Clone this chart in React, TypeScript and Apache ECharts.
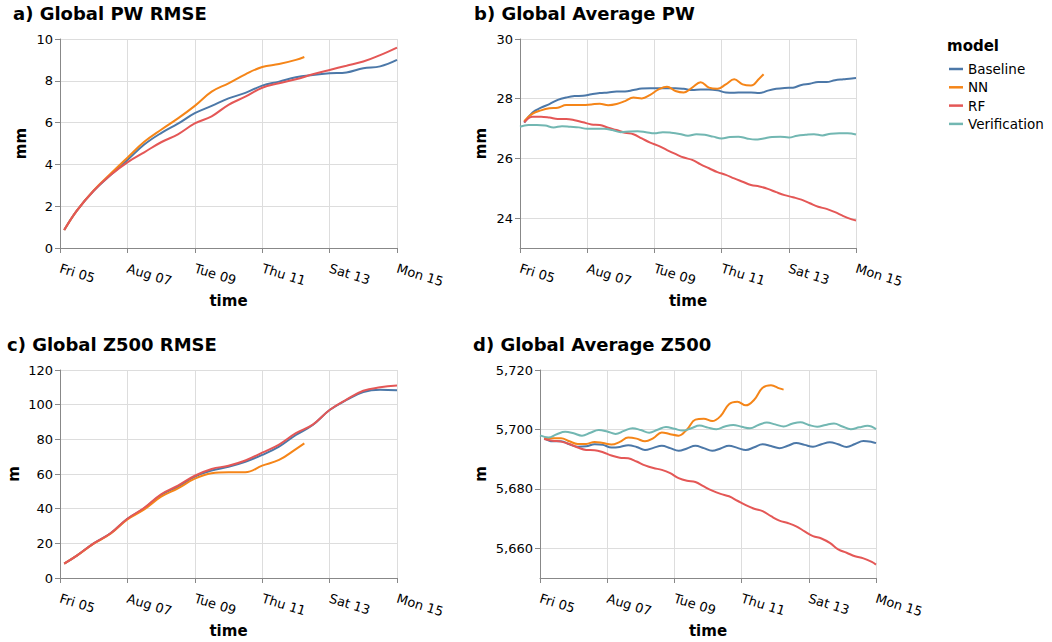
import React, { useEffect, useRef } from "react";
import * as echarts from "echarts";

const FONT = "DejaVu Sans";
const X_TICK_LABELS = ["Fri 05", "Aug 07", "Tue 09", "Thu 11", "Sat 13", "Mon 15"];
const MODELS = ["Baseline", "NN", "RF", "Verification"];
const COLORS: Record<string, string> = {
  Baseline: "#4c78a8",
  NN: "#f58518",
  RF: "#e45756",
  Verification: "#72b7b2",
};

// lead times in hours from Fri 05 00:00
const H12 = [3, 12, 24, 36, 48, 60, 72, 84, 96, 108, 120, 132, 144, 156, 168, 180, 192, 204, 216, 228, 240];
const H12_NN = [3, 12, 24, 36, 48, 60, 72, 84, 96, 108, 120, 132, 144, 156, 168, 174];
const H6 = [3, 9, 15, 21, 27, 33, 39, 45, 51, 57, 63, 69, 75, 81, 87, 93, 99, 105, 111, 117, 123, 129, 135, 141, 147, 153, 159, 165, 171, 177, 183, 189, 195, 201, 207, 213, 219, 225, 231, 237, 240];
const H6_NN = [3, 9, 15, 21, 27, 33, 39, 45, 51, 57, 63, 69, 75, 81, 87, 93, 99, 105, 111, 117, 123, 129, 135, 141, 147, 153, 159, 165, 171, 174];
const H6_VER = [0, 6, 12, 18, 24, 30, 36, 42, 48, 54, 60, 66, 72, 78, 84, 90, 96, 102, 108, 114, 120, 126, 132, 138, 144, 150, 156, 162, 168, 174, 180, 186, 192, 198, 204, 210, 216, 222, 228, 234, 240];

// a) Global PW RMSE (mm)
const A_BASELINE = [0.86, 1.79, 2.74, 3.49, 4.21, 4.95, 5.5, 5.95, 6.45, 6.8, 7.16, 7.42, 7.77, 7.96, 8.17, 8.28, 8.36, 8.4, 8.6, 8.69, 9.0];
const A_NN = [0.86, 1.79, 2.76, 3.55, 4.32, 5.08, 5.66, 6.2, 6.8, 7.48, 7.88, 8.31, 8.66, 8.8, 9.0, 9.14];
const A_RF = [0.86, 1.79, 2.74, 3.49, 4.1, 4.58, 5.06, 5.44, 5.96, 6.3, 6.85, 7.24, 7.67, 7.88, 8.07, 8.31, 8.52, 8.72, 8.92, 9.23, 9.59];

// b) Global Average PW (mm)
const B_BASELINE = [27.2, 27.54, 27.7, 27.82, 27.96, 28.04, 28.09, 28.1, 28.15, 28.19, 28.21, 28.24, 28.24, 28.29, 28.34, 28.35, 28.35, 28.35, 28.35, 28.33, 28.29, 28.31, 28.31, 28.28, 28.21, 28.2, 28.21, 28.21, 28.19, 28.27, 28.33, 28.36, 28.37, 28.46, 28.5, 28.56, 28.56, 28.62, 28.65, 28.68, 28.69];
const B_NN = [27.25, 27.5, 27.61, 27.68, 27.7, 27.79, 27.79, 27.79, 27.81, 27.83, 27.78, 27.82, 27.92, 28.04, 28.01, 28.13, 28.31, 28.4, 28.26, 28.21, 28.37, 28.55, 28.37, 28.33, 28.48, 28.65, 28.48, 28.44, 28.68, 28.82];
const B_RF = [27.21, 27.4, 27.4, 27.37, 27.32, 27.32, 27.28, 27.21, 27.14, 27.12, 27.03, 26.95, 26.86, 26.81, 26.67, 26.53, 26.42, 26.28, 26.15, 26.03, 25.95, 25.8, 25.67, 25.54, 25.45, 25.33, 25.22, 25.11, 25.06, 24.98, 24.87, 24.77, 24.7, 24.62, 24.5, 24.38, 24.31, 24.2, 24.07, 23.96, 23.92];
const B_VER = [27.06, 27.12, 27.12, 27.1, 27.04, 27.08, 27.06, 27.04, 26.99, 26.99, 26.99, 26.95, 26.88, 26.9, 26.91, 26.88, 26.84, 26.88, 26.86, 26.82, 26.76, 26.81, 26.79, 26.73, 26.67, 26.72, 26.73, 26.67, 26.63, 26.67, 26.72, 26.73, 26.7, 26.76, 26.79, 26.81, 26.77, 26.83, 26.84, 26.84, 26.8];

// c) Global Z500 RMSE (m)
const C_BASELINE = [8.3, 12.9, 20.0, 25.8, 34.2, 40.2, 47.9, 52.7, 58.5, 62.0, 64.2, 67.1, 71.0, 75.8, 82.5, 88.3, 96.9, 102.7, 107.3, 108.6, 108.3];
const C_NN = [8.3, 12.9, 19.8, 25.5, 33.8, 39.6, 46.9, 51.7, 57.3, 60.4, 61.0, 61.0, 64.8, 68.1, 74.4, 77.7];
const C_RF = [8.3, 12.9, 20.0, 25.8, 34.2, 40.5, 48.3, 53.3, 59.0, 62.9, 64.8, 67.8, 72.3, 77.0, 83.6, 88.5, 96.9, 102.9, 108.0, 110.0, 111.0];

// d) Global Average Z500 (m)
const D_BASELINE = [5697.0, 5696.0, 5696.0, 5695.0, 5694.2, 5694.3, 5695.0, 5694.8, 5693.9, 5694.1, 5694.7, 5694.1, 5693.1, 5693.8, 5694.5, 5693.7, 5692.8, 5693.6, 5694.5, 5693.7, 5692.8, 5693.6, 5694.5, 5693.8, 5693.1, 5694.0, 5695.0, 5694.4, 5693.7, 5694.5, 5695.4, 5694.8, 5694.2, 5695.0, 5695.7, 5695.0, 5694.1, 5695.1, 5696.1, 5695.8, 5695.4];
const D_NN = [5697.0, 5697.0, 5697.0, 5696.0, 5695.1, 5695.1, 5695.8, 5695.4, 5694.9, 5695.8, 5697.3, 5696.9, 5696.0, 5697.1, 5699.0, 5698.4, 5697.9, 5700.0, 5703.3, 5703.6, 5702.8, 5704.5, 5708.5, 5709.3, 5708.1, 5710.0, 5714.0, 5714.9, 5713.8, 5713.4];
const D_RF = [5696.8, 5696.2, 5695.9, 5695.1, 5693.9, 5693.1, 5693.0, 5692.3, 5691.2, 5690.5, 5690.3, 5689.2, 5687.9, 5687.0, 5686.4, 5685.3, 5683.6, 5682.7, 5682.3, 5680.8, 5679.4, 5678.3, 5677.5, 5676.0, 5674.5, 5673.3, 5672.5, 5670.8, 5669.3, 5668.5, 5667.4, 5665.7, 5664.1, 5663.3, 5661.8, 5659.6, 5658.5, 5657.3, 5656.6, 5655.4, 5654.5];
const D_VER = [5698.0, 5697.3, 5698.4, 5699.2, 5698.7, 5697.9, 5698.9, 5699.8, 5699.3, 5698.5, 5699.5, 5700.4, 5699.8, 5698.9, 5699.9, 5700.8, 5700.2, 5699.6, 5700.4, 5701.3, 5700.6, 5700.1, 5701.0, 5701.5, 5700.9, 5700.4, 5701.5, 5702.3, 5701.7, 5701.0, 5701.9, 5702.4, 5701.5, 5700.9, 5701.5, 5702.0, 5701.0, 5700.1, 5700.7, 5701.2, 5700.1];

const TITLES = ["a) Global PW RMSE", "b) Global Average PW", "c) Global Z500 RMSE", "d) Global Average Z500"];
const Y_NAMES = ["mm", "mm", "m", "m"];

const zip = (xs: number[], ys: number[]) => ys.map((y, i) => [xs[i], y]);

export default function App() {
  const ref = useRef<HTMLDivElement>(null);
  useEffect(() => {
    if (!ref.current) return;
    const chart = echarts.init(ref.current, undefined, { renderer: "svg" });

    const grids = [
      { left: 60, top: 39, width: 337, height: 209 },
      { left: 520, top: 39, width: 336, height: 209 },
      { left: 60, top: 370, width: 337, height: 208 },
      { left: 540, top: 370, width: 336, height: 208 },
    ];
    const titlePos = [
      { left: 13, top: 4 },
      { left: 474, top: 4 },
      { left: 7, top: 335 },
      { left: 473, top: 335 },
    ];
    const yNameGap = [32, 32, 39, 52];
    const yCfg: any[] = [
      { min: 0, max: 10, interval: 2 },
      { min: 23, max: 30, minInterval: 2, maxInterval: 2 },
      { min: 0, max: 120, interval: 20 },
      { min: 5650, max: 5720, minInterval: 20, maxInterval: 20 },
    ];

    const xAxis = grids.map((_, i) => ({
      type: "value",
      gridIndex: i,
      min: 0,
      max: 240,
      interval: 48,
      name: "time",
      nameLocation: "middle",
      nameGap: 45,
      nameTextStyle: { fontFamily: FONT, fontSize: 15, fontWeight: "bold", color: "#000" },
      axisLine: { show: true, lineStyle: { color: "#888", width: 1 } },
      axisTick: { show: true, length: 5, lineStyle: { color: "#888" } },
      axisLabel: {
        rotate: -17,
        margin: 20,
        fontFamily: FONT,
        fontSize: 13,
        color: "#000",
        formatter: (v: number) => X_TICK_LABELS[Math.round(v / 48)] ?? "",
      },
      splitLine: { show: true, lineStyle: { color: "#ddd", width: 1 } },
    }));

    const yAxis = grids.map((_, i) => ({
      type: "value",
      gridIndex: i,
      ...yCfg[i],
      name: Y_NAMES[i],
      nameLocation: "middle",
      nameGap: yNameGap[i],
      nameTextStyle: { fontFamily: FONT, fontSize: 15, fontWeight: "bold", color: "#000" },
      axisLine: { show: true, lineStyle: { color: "#888", width: 1 } },
      axisTick: { show: true, length: 5, lineStyle: { color: "#888" } },
      axisLabel: {
        margin: 7,
        fontFamily: FONT,
        fontSize: 13,
        color: "#000",
        showMinLabel: i === 1 || i === 3 ? false : true,
        formatter: (v: number) => v.toLocaleString("en-US"),
      },
      splitLine: { show: true, lineStyle: { color: "#ddd", width: 1 } },
    }));

    const mk = (name: string, idx: number, xs: number[], ys: number[]) => ({
      type: "line",
      name,
      xAxisIndex: idx,
      yAxisIndex: idx,
      data: zip(xs, ys),
      showSymbol: false,
      smooth: 0.4,
      color: COLORS[name],
      lineStyle: { width: 2, color: COLORS[name] },
      emphasis: { disabled: true },
    });

    const series = [
      mk("Baseline", 0, H12, A_BASELINE),
      mk("NN", 0, H12_NN, A_NN),
      mk("RF", 0, H12, A_RF),
      mk("Baseline", 1, H6, B_BASELINE),
      mk("NN", 1, H6_NN, B_NN),
      mk("RF", 1, H6, B_RF),
      mk("Verification", 1, H6_VER, B_VER),
      mk("Baseline", 2, H12, C_BASELINE),
      mk("NN", 2, H12_NN, C_NN),
      mk("RF", 2, H12, C_RF),
      mk("Baseline", 3, H6, D_BASELINE),
      mk("NN", 3, H6_NN, D_NN),
      mk("RF", 3, H6, D_RF),
      mk("Verification", 3, H6_VER, D_VER),
    ];

    const titleStyle = { fontFamily: FONT, fontSize: 18, fontWeight: "bold", color: "#000" };
    const title: any[] = TITLES.map((t, i) => ({
      text: t,
      left: titlePos[i].left,
      top: titlePos[i].top,
      padding: 0,
      textStyle: titleStyle,
    }));
    title.push({
      text: "model",
      left: 947,
      top: 38,
      padding: 0,
      textStyle: { fontFamily: FONT, fontSize: 15, fontWeight: "bold", color: "#000" },
    });

    chart.setOption({
      animation: false,
      backgroundColor: "#fff",
      title,
      legend: {
        orient: "vertical",
        left: 949,
        top: 61,
        padding: 0,
        icon: "rect",
        itemWidth: 14,
        itemHeight: 2.5,
        itemGap: 2.3,
        selectedMode: false,
        data: MODELS,
        textStyle: { fontFamily: FONT, fontSize: 13.5, color: "#000", lineHeight: 16 },
      },
      grid: grids.map((g) => ({ ...g, containLabel: false, outerBoundsMode: "none" })),
      xAxis,
      yAxis,
      series,
    });
    return () => chart.dispose();
  }, []);
  return (
    <div
      ref={ref}
      style={{ position: "absolute", left: 0, top: 0, width: 1052, height: 642 }}
    />
  );
}
